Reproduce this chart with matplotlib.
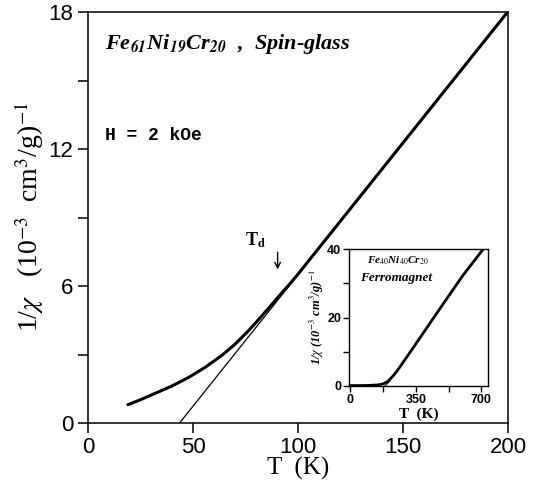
import numpy as np
import matplotlib
matplotlib.use("Agg")
import matplotlib.pyplot as plt

plt.rcParams['mathtext.fontset'] = 'stix'

# main panel: spin-glass Fe61Ni19Cr20, 1/chi vs T
T_data = [19, 25, 32, 40, 48, 56, 64, 70, 76, 80, 84, 88, 92, 96, 100, 110, 120, 150, 180, 200]
inv_chi = [0.80, 1.02, 1.30, 1.62, 2.00, 2.45, 2.98, 3.45, 4.00, 4.40, 4.82, 5.24, 5.67, 6.08, 6.52,
           7.67, 8.82, 12.27, 15.72, 18.02]

# Curie-Weiss extrapolation line
T_fit = [43.6, 200]
inv_chi_fit = [0.0, 18.0]

# inset: ferromagnet
T_inset = [0, 50, 100, 150, 175, 200, 225, 250, 300, 400, 500, 600, 710]
inv_chi_inset = [0.1, 0.1, 0.15, 0.3, 0.6, 1.3, 2.7, 4.4, 8.3, 16.3, 24.3, 32.2, 40.0]
T_inset_fit = [185, 215]
inv_chi_inset_fit = [0.0, 1.6]

fig = plt.figure(figsize=(5.35, 4.8), dpi=100)
ax = fig.add_axes([0.1645, 0.11875, 0.785, 0.85625])

ax.plot(T_data, inv_chi, color='black', lw=2.2, solid_capstyle='round')
ax.plot(T_fit, inv_chi_fit, color='black', lw=0.9)

ax.set_xlim(0, 200)
ax.set_ylim(0, 18)
ax.set_xticks([0, 50, 100, 150, 200])
ax.set_yticks([0, 6, 12, 18])
ax.set_yticks([3, 9, 15], minor=True)
ax.tick_params(axis='both', which='both', direction='out', length=7, width=1.1,
               labelsize=16)
ax.tick_params(axis='x', pad=3)
for lab in ax.get_xticklabels() + ax.get_yticklabels():
    lab.set_family('Liberation Sans')
for s in ax.spines.values():
    s.set_linewidth(1.1)

ax.set_xlabel('T  (K)', family='Liberation Serif', fontsize=18, labelpad=-1)
ax.set_ylabel(r'1/$\chi$   (10$^{-3}$  cm$^{3}$/g)$^{-1}$', family='Liberation Serif',
              fontsize=20, labelpad=2)

ax.text(8, 16.6, r'Fe$_{\mathbfit{61}}$Ni$_{\mathbfit{19}}$Cr$_{\mathbfit{20}}$  ,  Spin-glass',
        family='Liberation Serif', fontstyle='italic', fontweight='bold', fontsize=16,
        va='center', ha='left')
ax.text(8, 12.6, 'H = 2 kOe', family='Liberation Mono', fontweight='bold', fontsize=13,
        va='center', ha='left')

ax.annotate('', xy=(90.3, 6.6), xytext=(90.3, 7.6),
            arrowprops=dict(arrowstyle='->', color='black', lw=1.0))
ax.text(80, 8.0, r'T$_{\mathbf{d}}$', family='Liberation Serif', fontweight='bold',
        fontsize=13, ha='center', va='center')

# inset
ins = fig.add_axes([0.653, 0.196, 0.259, 0.285])
ins.plot(T_inset, inv_chi_inset, color='black', lw=2.0)
ins.plot(T_inset_fit, inv_chi_inset_fit, color='black', lw=0.7)
ins.set_xlim(-5, 735)
ins.set_ylim(0, 40)
ins.set_xticks([0, 350, 700])
ins.set_xticks([175, 525], minor=True)
ins.set_yticks([0, 20, 40])
ins.set_yticks([10, 30], minor=True)
ins.tick_params(axis='both', which='both', direction='out', length=4, width=1.0,
                labelsize=9, pad=2)
for lab in ins.get_xticklabels() + ins.get_yticklabels():
    lab.set_fontweight('bold')
    lab.set_family('Liberation Sans')
for s in ins.spines.values():
    s.set_linewidth(1.0)
ins.set_xlabel('T  (K)', family='Liberation Serif', fontweight='bold', fontsize=11, labelpad=1)
ins.set_ylabel(r'1/$\chi$ (10$^{-3}$ cm$^{3}$/g)$^{-1}$', family='Liberation Serif',
               fontweight='bold', fontstyle='italic', fontsize=9, labelpad=1)
ins.text(0.35, 0.915, r'Fe$_{40}$Ni$_{40}$Cr$_{20}$', transform=ins.transAxes,
         family='Liberation Serif', fontstyle='italic', fontweight='bold', fontsize=8,
         ha='center', va='center')
ins.text(0.34, 0.786, 'Ferromagnet', transform=ins.transAxes,
         family='Liberation Serif', fontstyle='italic', fontweight='bold', fontsize=9.5,
         ha='center', va='center')

fig.savefig('out.png', dpi=100)
